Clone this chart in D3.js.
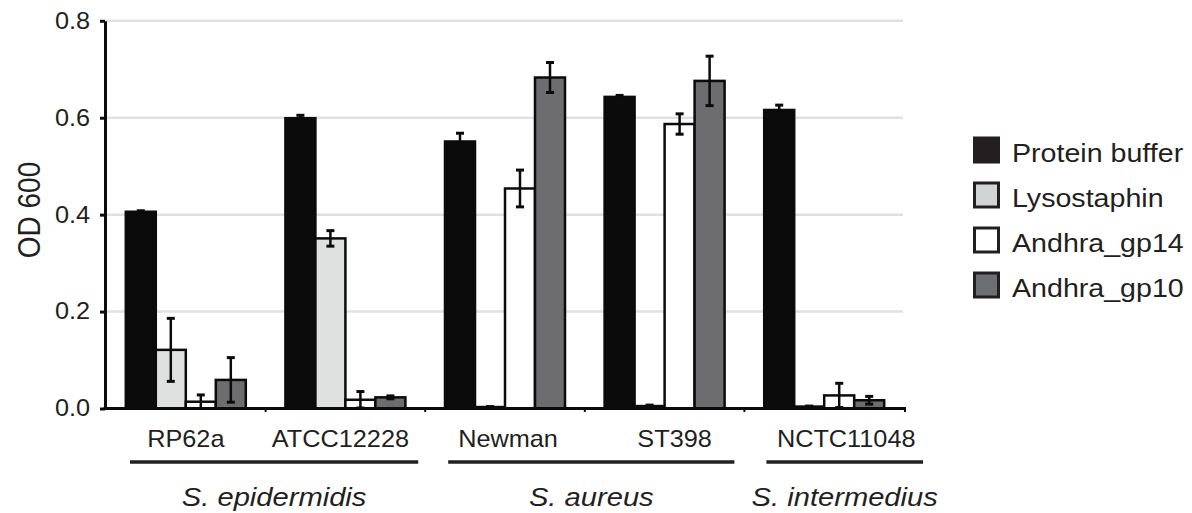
<!DOCTYPE html>
<html>
<head>
<meta charset="utf-8">
<script src="https://cdn.jsdelivr.net/npm/d3@7"></script>
<style>
  body { margin: 0; background: #fff; }
  text { font-family: "Liberation Sans", Arial, sans-serif; fill: #231f20; }
</style>
</head>
<body>
<div class="chart"></div>
<script>
// strains and the species they belong to
const strains = ["RP62a", "ATCC12228", "Newman", "ST398", "NCTC11048"]
const species = [
    { name: "S. epidermidis", first: "RP62a", last: "ATCC12228" },
    { name: "S. aureus", first: "Newman", last: "ST398" },
    { name: "S. intermedius", first: "NCTC11048", last: "NCTC11048" }
]
const treatments = ["Protein buffer", "Lysostaphin", "Andhra_gp14", "Andhra_gp10"]
const colors = ["#0b0b0c", "#dfe0e0", "#ffffff", "#6d6d6f"]
const legendColors = ["#231f20", "#d1d3d4", "#ffffff", "#6d6e71"]

// OD600 means per treatment, one value per strain
const proteinBuffer = [0.406, 0.599, 0.551, 0.643, 0.616]
const lysostaphin   = [0.121, 0.351, 0.003, 0.005, 0.004]
const gp14          = [0.014, 0.018, 0.454, 0.587, 0.027]
const gp10          = [0.059, 0.023, 0.683, 0.676, 0.017]
// error bars (+/-)
const errProtein = [0.002, 0.006, 0.017, 0.003, 0.010]
const errLyso    = [0.065, 0.016, 0.001, 0.002, 0.001]
const errGp14    = [0.014, 0.017, 0.038, 0.021, 0.025]
const errGp10    = [0.046, 0.003, 0.031, 0.051, 0.008]

const yTicks = [0, 0.2, 0.4, 0.6, 0.8]

const means = [proteinBuffer, lysostaphin, gp14, gp10]
const errs = [errProtein, errLyso, errGp14, errGp10]

const data = []
strains.forEach((s, i) => {
    treatments.forEach((t, j) => {
        data.push({ strain: s, treatment: t, value: means[j][i], err: errs[j][i], k: j })
    })
})

const width = 1192, height = 513
const stretch = 1.1   // the original figure's text is a bit wide

const svg = d3.select(".chart")
    .append("svg")
    .attr("width", width)
    .attr("height", height)

const x0 = d3.scaleBand()
    .domain(strains)
    .range([106, 904])

const x1 = d3.scaleBand()
    .domain(treatments)
    .range([0, x0.bandwidth()])
    .paddingOuter(0.66)

const y = d3.scaleLinear()
    .domain([0, 0.8])
    .range([408.5, 20.8])

// gridlines
svg.append("g")
    .selectAll("line")
    .data(yTicks.slice(1))
    .enter()
    .append("line")
    .attr("x1", 106)
    .attr("x2", 903)
    .attr("y1", d => y(d))
    .attr("y2", d => y(d))
    .style("stroke", "#e1e1e1")
    .style("stroke-width", 2.5)

// bars
const bars = svg.append("g")
    .selectAll("g")
    .data(data)
    .enter()
    .append("g")
    .attr("transform", d => `translate(${x0(d.strain) + x1(d.treatment)},0)`)

bars.append("rect")
    .attr("x", 0)
    .attr("width", x1.bandwidth())
    .attr("y", d => y(d.value))
    .attr("height", d => y(0) - y(d.value))
    .style("fill", d => colors[d.k])
    .style("stroke", "#0b0b0c")
    .style("stroke-width", 2.5)

// error bars
const cx = x1.bandwidth() / 2
bars.append("line")
    .attr("x1", cx).attr("x2", cx)
    .attr("y1", d => y(d.value + d.err))
    .attr("y2", d => y(Math.max(0, d.value - d.err)))
    .style("stroke", "#0b0b0c")
    .style("stroke-width", 2.5)
bars.selectAll(".cap")
    .data(d => [d.value + d.err, Math.max(0, d.value - d.err)])
    .enter()
    .append("line")
    .attr("x1", cx - 4).attr("x2", cx + 4)
    .attr("y1", d => y(d)).attr("y2", d => y(d))
    .style("stroke", "#0b0b0c")
    .style("stroke-width", 3)

// y axis
const yAxis = svg.append("g")
    .attr("transform", "translate(105,0)")
    .call(d3.axisLeft(y).tickValues(yTicks).tickFormat(d3.format(".1f")).tickSize(5).tickSizeOuter(0).tickPadding(8.6))
yAxis.select(".domain").style("stroke", "#0b0b0c").style("stroke-width", 3)
yAxis.selectAll(".tick line").style("stroke", "#0b0b0c").style("stroke-width", 3)
yAxis.selectAll(".tick text")
    .attr("transform", `scale(${stretch},1)`)
    .style("font-size", "23px")
    .style("font-family", "Liberation Sans, Arial, sans-serif")
    .style("fill", "#231f20")

// x axis line and small separators
svg.append("line")
    .attr("x1", 103.5).attr("x2", 906)
    .attr("y1", y(0)).attr("y2", y(0))
    .style("stroke", "#0b0b0c")
    .style("stroke-width", 3)
svg.append("g")
    .selectAll("line")
    .data(strains.slice(1).concat(["end"]))
    .enter()
    .append("line")
    .attr("x1", d => d === "end" ? 905 : x0(d))
    .attr("x2", d => d === "end" ? 905 : x0(d))
    .attr("y1", y(0)).attr("y2", y(0) + 3.5)
    .style("stroke", "#0b0b0c")
    .style("stroke-width", 2)

// y title
svg.append("text")
    .attr("transform", `translate(40,210) scale(${stretch},1) rotate(-90)`)
    .attr("text-anchor", "middle")
    .style("font-size", "28px")
    .text("OD 600")

// strain labels (hand-placed in the original, small nudges)
const labelNudge = [0, -5, 3, 10, 22]
svg.append("g")
    .selectAll("text")
    .data(strains)
    .enter()
    .append("text")
    .attr("transform", (d, i) => `translate(${x0(d) + x0.bandwidth() / 2 + labelNudge[i]},447) scale(${stretch},1)`)
    .attr("text-anchor", "middle")
    .style("font-size", "23px")
    .text(d => d)

// species brackets
const lineEnds = [[24, -7], [23, -10], [22, 19]]
const sp = svg.append("g")
    .selectAll("g")
    .data(species)
    .enter()
    .append("g")
sp.append("line")
    .attr("x1", (d, i) => x0(d.first) + lineEnds[i][0])
    .attr("x2", (d, i) => x0(d.last) + x0.bandwidth() + lineEnds[i][1])
    .attr("y1", 462).attr("y2", 462)
    .style("stroke", "#231f20")
    .style("stroke-width", 3.5)
sp.append("text")
    .attr("transform", (d, i) => {
        const mid = (x0(d.first) + lineEnds[i][0] + x0(d.last) + x0.bandwidth() + lineEnds[i][1]) / 2
        return `translate(${mid},506) scale(${stretch},1)`
    })
    .attr("text-anchor", "middle")
    .style("font-size", "26.5px")
    .style("font-style", "italic")
    .text(d => d.name)

// legend
const legend = svg.append("g")
    .selectAll("g")
    .data(treatments)
    .enter()
    .append("g")
    .attr("transform", (d, i) => `translate(974,${150 + i * 45})`)
legend.append("rect")
    .attr("x", 0.5).attr("y", -12)
    .attr("width", 24).attr("height", 24)
    .style("fill", (d, i) => legendColors[i])
    .style("stroke", "#231f20")
    .style("stroke-width", 3)
legend.append("text")
    .attr("transform", `translate(38,11.5) scale(${stretch},1)`)
    .style("font-size", "26px")
    .text(d => d)
</script>
</body>
</html>
